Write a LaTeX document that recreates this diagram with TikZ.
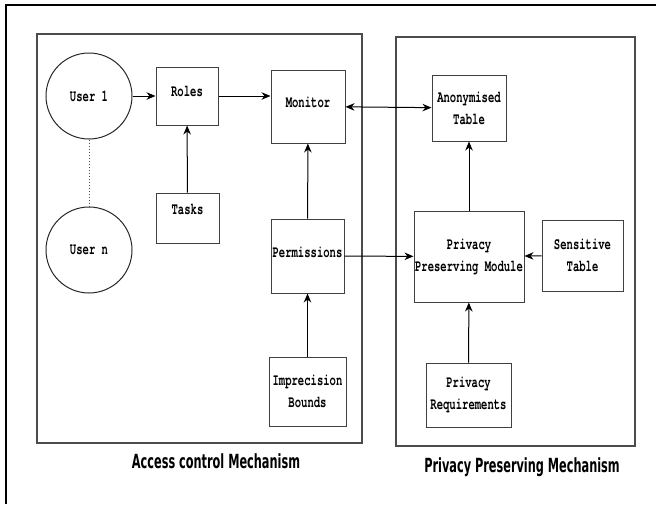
\documentclass[tikz,border=0pt]{standalone}
\usepackage{fontspec}
\usetikzlibrary{arrows.meta}
\newfontfamily\boxfont[FakeStretch=0.64]{TeX Gyre Cursor}
\newfontfamily\capfont[FakeStretch=0.58]{DejaVu Sans}
\begin{document}
\begin{tikzpicture}[x=1pt,y=-1pt,>={Stealth[length=9pt,width=7.5pt]},
    box/.style={draw=black!75,line width=1pt,inner sep=1pt,align=center,
        font=\boxfont\bfseries\fontsize{16.5}{22}\selectfont},
    user/.style={draw=black!85,circle,line width=1pt,minimum size=86pt,inner sep=0pt,
        font=\boxfont\bfseries\fontsize{16.5}{22}\selectfont},
    lift/.style={text depth=#1},
    frame/.style={draw=black!70,line width=1.2pt},
    caption/.style={font=\capfont\bfseries\fontsize{19.5}{22}\selectfont},
    link/.style={line width=1pt,->}]
        \useasboundingbox (0,0) rectangle (656,504);
        \draw [line width=1.6pt] (6,504) -- (6,5) -- (656,5);
        % the two mechanisms
        \draw [frame] (37,34) rectangle (362,443);
        \draw [frame] (396,37) rectangle (635,446);
        \node [caption] (acm) at (216,461) {Access control Mechanism};
        \node [caption] (ppmech) at (522,467) {Privacy Preserving Mechanism};
        % access control
        \node [user] (u1) at (89,96) {User 1};
        \node [user] (un) at (89,250) {User n};
        \node [box,minimum width=62pt,minimum height=58pt,lift=10pt] (roles) at (187,96) {Roles};
        \node [box,minimum width=63pt,minimum height=50pt,lift=18pt] (tasks) at (187.5,218) {Tasks};
        \node [box,minimum width=74pt,minimum height=73pt,lift=9pt] (monitor) at (308,106.5) {Monitor};
        \node [box,minimum width=73pt,minimum height=74pt,lift=8pt] (perm) at (307.5,256) {Permissions};
        \node [box,minimum width=77pt,minimum height=69pt] (impr) at (307.5,391.5) {Imprecision\\Bounds};
        % privacy preserving
        \node [box,minimum width=74pt,minimum height=66pt] (anon) at (469,108) {Anonymised\\Table};
        \node [box,minimum width=110pt,minimum height=91pt] (ppm) at (469,256.5) {Privacy\\Preserving Module};
        \node [box,minimum width=81pt,minimum height=71pt] (sens) at (582.5,255.5) {Sensitive\\Table};
        \node [box,minimum width=85pt,minimum height=64pt] (preq) at (468.5,395) {Privacy\\Requirements};
        \draw [dotted,black!70,line width=1pt] (u1) -- (un);
        \draw [link] (u1) -- (roles);
        \draw [link] (roles.east) -- (roles.east -| monitor.west);
        \draw [link] (tasks) -- (roles);
        \draw [link] (perm) -- (monitor);
        \draw [link] (impr) -- (perm);
        \draw [link,<->] (monitor) -- (anon);
        \draw [link] (perm) -- (ppm);
        \draw [link] (sens) -- (ppm);
        \draw [link] (ppm) -- (anon);
        \draw [link] (preq) -- (ppm);
\end{tikzpicture}
\end{document}
